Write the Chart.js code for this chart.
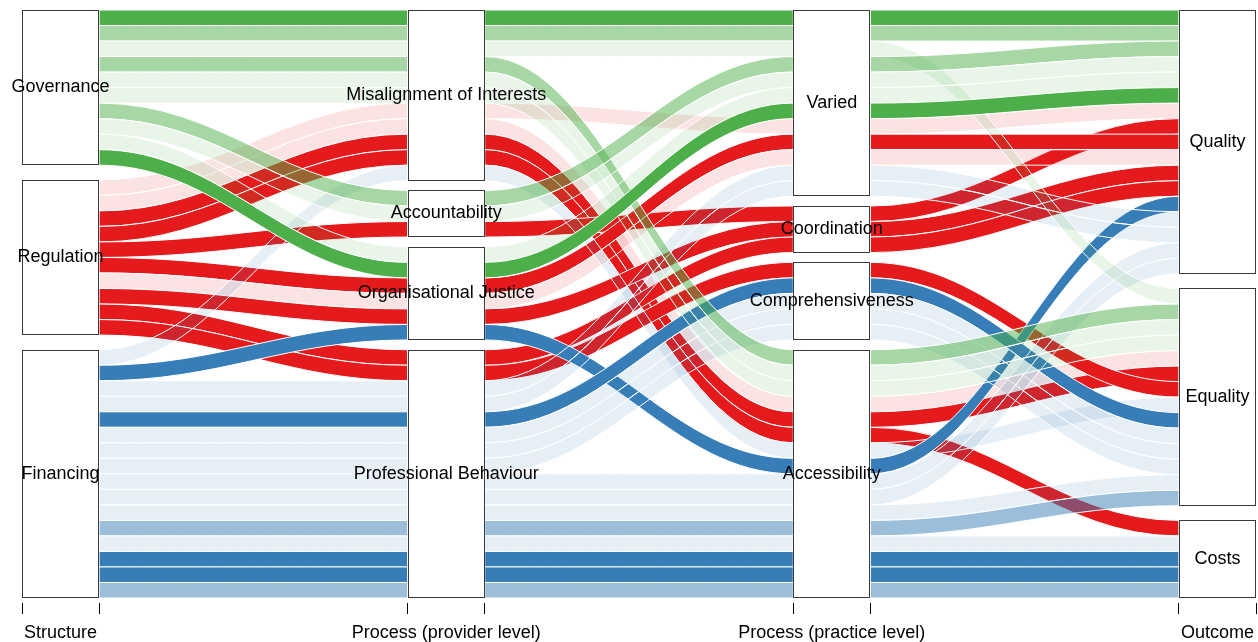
<!DOCTYPE html>
<html>
<head>
<meta charset="utf-8">
<title>Alluvial diagram</title>
<script src="https://cdn.jsdelivr.net/npm/chart.js@4.4.1/dist/chart.umd.min.js"></script>
<style>
  html, body { margin: 0; padding: 0; background: #ffffff; }
  canvas { display: block; }
</style>
</head>
<body>
<canvas id="chart" width="1258" height="642"></canvas>
<script>
// ---- Axes and their categories (listed top to bottom) ----
const axisNames = ['Structure', 'Process (provider level)', 'Process (practice level)', 'Outcome'];
const structureLevels = ['Governance', 'Regulation', 'Financing'];
const providerLevels = ['Misalignment of Interests', 'Accountability', 'Organisational Justice', 'Professional Behaviour'];
const practiceLevels = ['Varied', 'Coordination', 'Comprehensiveness', 'Accessibility'];
const outcomeLevels = ['Quality', 'Equality', 'Costs'];

// ---- One entry per pathway (each pathway has weight 1) ----
const structure = [
  'Governance', 'Governance', 'Governance', 'Governance', 'Governance',
  'Governance', 'Governance', 'Governance', 'Governance', 'Governance',
  'Regulation', 'Regulation', 'Regulation', 'Regulation', 'Regulation',
  'Regulation', 'Regulation', 'Regulation', 'Regulation', 'Regulation',
  'Financing', 'Financing', 'Financing', 'Financing', 'Financing', 'Financing',
  'Financing', 'Financing', 'Financing', 'Financing', 'Financing', 'Financing',
  'Financing', 'Financing', 'Financing', 'Financing'
];
const provider = [
  'Misalignment of Interests', 'Misalignment of Interests', 'Misalignment of Interests',
  'Misalignment of Interests', 'Misalignment of Interests', 'Misalignment of Interests',
  'Accountability', 'Accountability', 'Organisational Justice', 'Organisational Justice',
  'Misalignment of Interests', 'Misalignment of Interests', 'Misalignment of Interests',
  'Misalignment of Interests', 'Accountability', 'Organisational Justice',
  'Organisational Justice', 'Organisational Justice', 'Professional Behaviour', 'Professional Behaviour',
  'Misalignment of Interests', 'Organisational Justice', 'Professional Behaviour', 'Professional Behaviour',
  'Professional Behaviour', 'Professional Behaviour', 'Professional Behaviour', 'Professional Behaviour',
  'Professional Behaviour', 'Professional Behaviour', 'Professional Behaviour', 'Professional Behaviour',
  'Professional Behaviour', 'Professional Behaviour', 'Professional Behaviour', 'Professional Behaviour'
];
const practice = [
  'Varied', 'Varied', 'Varied', 'Accessibility', 'Accessibility',
  'Accessibility', 'Varied', 'Varied', 'Varied', 'Varied',
  'Varied', 'Accessibility', 'Accessibility', 'Accessibility', 'Coordination',
  'Varied', 'Varied', 'Coordination', 'Coordination', 'Comprehensiveness',
  'Accessibility', 'Accessibility', 'Varied', 'Varied', 'Comprehensiveness', 'Comprehensiveness',
  'Comprehensiveness', 'Comprehensiveness', 'Accessibility', 'Accessibility', 'Accessibility', 'Accessibility',
  'Accessibility', 'Accessibility', 'Accessibility', 'Accessibility'
];
const outcome = [
  'Quality', 'Quality', 'Equality', 'Equality', 'Equality',
  'Equality', 'Quality', 'Quality', 'Quality', 'Quality',
  'Quality', 'Equality', 'Equality', 'Costs', 'Quality',
  'Quality', 'Quality', 'Quality', 'Quality', 'Equality',
  'Equality', 'Quality', 'Quality', 'Quality', 'Equality', 'Equality',
  'Equality', 'Equality', 'Quality', 'Quality', 'Equality', 'Equality',
  'Costs', 'Costs', 'Costs', 'Costs'
];
const strength = [
  'strong', 'moderate', 'weak', 'moderate', 'weak',
  'weak', 'moderate', 'weak', 'weak', 'strong',
  'weak', 'weak', 'strong', 'strong', 'strong',
  'strong', 'weak', 'strong', 'strong', 'strong',
  'weak', 'strong', 'weak', 'weak', 'strong', 'weak',
  'weak', 'weak', 'weak', 'weak', 'weak', 'moderate',
  'weak', 'strong', 'strong', 'moderate'
];

// ---- Styling ----
const structureColours = {
  Governance: [77, 175, 74],
  Regulation: [228, 26, 28],
  Financing: [55, 126, 184]
};
const strengthAlpha = { strong: 1, moderate: 0.5, weak: 0.12 };
const drawGroupOrder = ['Regulation', 'Financing', 'Governance'];
const boxHalfWidth = 0.1;   // half width of a category box, in axis units
const gapWidth = 0.05;      // share of the height used for gaps between categories
const labelFont = '18px "Liberation Sans", Arial, Helvetica, sans-serif';

const axisValues = [structure, provider, practice, outcome];
const axisLevels = [structureLevels, providerLevels, practiceLevels, outcomeLevels];
const pathCount = structure.length;

// Stack the pathways on one axis: by category, then by the other axes in turn.
function stackAxis(i) {
  const idx = axisLevels.map((levels, k) => axisValues[k].map(v => levels.indexOf(v)));
  const keys = [i].concat([0, 1, 2, 3].filter(k => k !== i));
  const order = Array.from({ length: pathCount }, (_, a) => a).sort((a, b) => {
    for (const k of keys) {
      const d = idx[k][a] - idx[k][b];
      if (d !== 0) return d;
    }
    return a - b;
  });
  const present = new Set(idx[i]).size;
  const unit = (1 - gapWidth) / pathCount;
  const gapEach = present > 1 ? gapWidth / (present - 1) : 0;
  const top = new Array(pathCount), bottom = new Array(pathCount);
  let pos = 0, gaps = 0, prev = null;
  order.forEach(a => {
    const lvl = idx[i][a];
    if (prev !== null && lvl !== prev) gaps++;
    prev = lvl;
    top[a] = pos * unit + gaps * gapEach;
    pos++;
    bottom[a] = pos * unit + gaps * gapEach;
  });
  return { top, bottom };
}

const stacks = axisValues.map((_, i) => stackAxis(i));

const tickValues = [];
axisNames.forEach((_, i) => {
  tickValues.push(i + 1 - boxHalfWidth, i + 1, i + 1 + boxHalfWidth);
});
const isAxisCentre = v => Math.abs(v - Math.round(v)) < 1e-9;

const alluvialPlugin = {
  id: 'alluvial',
  afterDraw(chart) {
    const { ctx } = chart;
    const xs = chart.scales.x;
    const ys = chart.scales.y;
    ctx.save();

    // Ribbons between neighbouring axes
    const drawOrder = Array.from({ length: pathCount }, (_, a) => a).sort((a, b) => {
      const d = drawGroupOrder.indexOf(structure[a]) - drawGroupOrder.indexOf(structure[b]);
      return d !== 0 ? d : a - b;
    });
    drawOrder.forEach(a => {
      const rgb = structureColours[structure[a]];
      const alpha = strengthAlpha[strength[a]];
      for (let j = 0; j < axisNames.length - 1; j++) {
        const x0 = xs.getPixelForValue(j + 1 + boxHalfWidth);
        const x1 = xs.getPixelForValue(j + 2 - boxHalfWidth);
        const k = (x1 - x0) * 0.4;
        const y0t = ys.getPixelForValue(stacks[j].top[a]);
        const y0b = ys.getPixelForValue(stacks[j].bottom[a]);
        const y1t = ys.getPixelForValue(stacks[j + 1].top[a]);
        const y1b = ys.getPixelForValue(stacks[j + 1].bottom[a]);
        ctx.beginPath();
        ctx.moveTo(x0, y0t);
        ctx.bezierCurveTo(x0 + k, y0t, x1 - k, y1t, x1, y1t);
        ctx.lineTo(x1, y1b);
        ctx.bezierCurveTo(x1 - k, y1b, x0 + k, y0b, x0, y0b);
        ctx.closePath();
        ctx.fillStyle = `rgba(${rgb[0]},${rgb[1]},${rgb[2]},${alpha})`;
        ctx.fill();
        ctx.strokeStyle = '#ffffff';
        ctx.lineWidth = 1;
        ctx.stroke();
      }
    });

    // Category boxes with their names
    ctx.font = labelFont;
    ctx.textAlign = 'center';
    ctx.textBaseline = 'middle';
    axisLevels.forEach((levels, i) => {
      const left = Math.round(xs.getPixelForValue(i + 1 - boxHalfWidth));
      const right = Math.round(xs.getPixelForValue(i + 1 + boxHalfWidth));
      levels.forEach(level => {
        let lo = Infinity, hi = -Infinity;
        for (let a = 0; a < pathCount; a++) {
          if (axisValues[i][a] !== level) continue;
          lo = Math.min(lo, stacks[i].top[a]);
          hi = Math.max(hi, stacks[i].bottom[a]);
        }
        if (lo === Infinity) return;
        const top = Math.round(ys.getPixelForValue(lo));
        const bottom = Math.round(ys.getPixelForValue(hi));
        ctx.fillStyle = '#ffffff';
        ctx.fillRect(left, top, right - left, bottom - top);
        ctx.strokeStyle = '#3a3a3a';
        ctx.lineWidth = 1;
        ctx.strokeRect(left + 0.5, top + 0.5, right - left - 1, bottom - top - 1);
        ctx.fillStyle = '#000000';
        ctx.fillText(level, xs.getPixelForValue(i + 1), (top + bottom) / 2);
      });
    });
    ctx.restore();
  }
};

Chart.defaults.font.family = '"Liberation Sans", Arial, Helvetica, sans-serif';
Chart.defaults.font.size = 18;
Chart.defaults.color = '#000000';

new Chart(document.getElementById('chart'), {
  type: 'scatter',
  data: { datasets: [] },
  options: {
    responsive: false,
    animation: false,
    devicePixelRatio: 1,
    layout: { padding: { left: 22, right: 2, top: 10, bottom: 0 } },
    plugins: { legend: { display: false }, tooltip: { enabled: false } },
    scales: {
      x: {
        type: 'linear',
        position: 'bottom',
        min: 1 - boxHalfWidth,
        max: axisNames.length + boxHalfWidth,
        afterBuildTicks: scale => { scale.ticks = tickValues.map(v => ({ value: v })); },
        afterFit: scale => {
          scale.height = 39;
          scale.paddingLeft = 0;
          scale.paddingRight = 0;
        },
        border: { display: false },
        grid: {
          drawOnChartArea: false,
          drawTicks: true,
          tickLength: 11,
          tickWidth: 1,
          tickColor: c => (c.tick && !isAxisCentre(c.tick.value)) ? '#000000' : 'rgba(0,0,0,0)'
        },
        ticks: {
          autoSkip: false,
          maxRotation: 0,
          minRotation: 0,
          padding: 8,
          color: '#000000',
          font: { size: 18 },
          callback: v => isAxisCentre(v) ? axisNames[Math.round(v) - 1] : ''
        }
      },
      y: {
        type: 'linear',
        reverse: true,
        min: 0,
        max: 1 + 5 / 588,
        display: false
      }
    }
  },
  plugins: [alluvialPlugin]
});
</script>
</body>
</html>
